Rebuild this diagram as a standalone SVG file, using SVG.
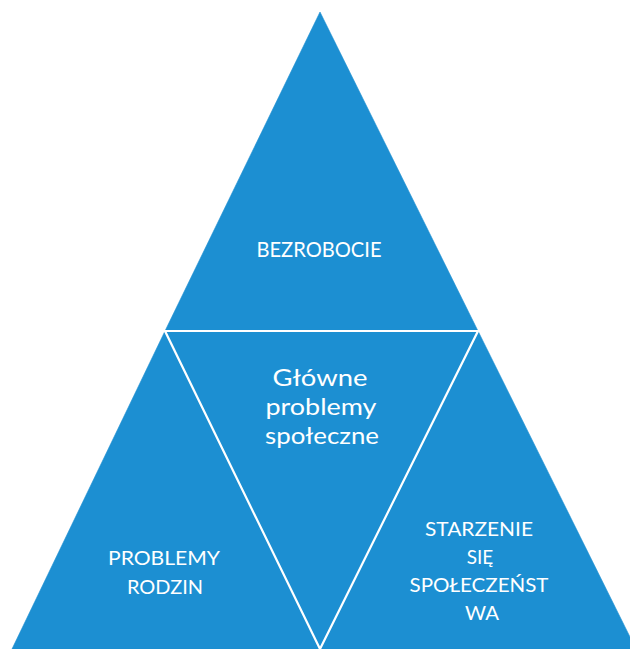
<svg xmlns="http://www.w3.org/2000/svg" width="630" height="649" viewBox="0 0 630 649">
<style>
.tri{fill:#1c8fd2;stroke:#1c8fd2;stroke-width:0.6}
.edge{fill:none;stroke:#ffffff;stroke-width:2.2;stroke-linejoin:miter}
.lbl{fill:#ffffff;font-family:Lato,"Open Sans","Noto Sans",sans-serif;text-anchor:middle}
</style>
<rect width="630" height="649" fill="#ffffff"/>
<g id="top">
<polygon class="tri" points="320,12 165,331 478,331"/>
<text class="lbl" x="319" y="257" font-size="21" textLength="125" lengthAdjust="spacingAndGlyphs">BEZROBOCIE</text>
</g>
<g id="left">
<polygon class="tri" points="165,331 12,649 320,649"/>
<text class="lbl" x="164" y="565" font-size="19" textLength="112" lengthAdjust="spacingAndGlyphs">PROBLEMY</text>
<text class="lbl" x="165" y="594" font-size="19" textLength="76" lengthAdjust="spacingAndGlyphs">RODZIN</text>
</g>
<g id="center">
<polygon class="tri" points="165,331 478,331 320,649"/>
<text class="lbl" x="320" y="386" font-size="24" textLength="95" lengthAdjust="spacingAndGlyphs">Główne</text>
<text class="lbl" x="321" y="415" font-size="24" textLength="111" lengthAdjust="spacingAndGlyphs">problemy</text>
<text class="lbl" x="322" y="444" font-size="24" textLength="114" lengthAdjust="spacingAndGlyphs">społeczne</text>
</g>
<g id="right">
<polygon class="tri" points="478,331 320,649 636,649"/>
<text class="lbl" x="479" y="536" font-size="19" textLength="108" lengthAdjust="spacingAndGlyphs">STARZENIE</text>
<text class="lbl" x="480" y="564" font-size="19">SIĘ</text>
<text class="lbl" x="479" y="592" font-size="19" textLength="139" lengthAdjust="spacingAndGlyphs">SPOŁECZEŃST</text>
<text class="lbl" x="482" y="620" font-size="19" textLength="34" lengthAdjust="spacingAndGlyphs">WA</text>
</g>
<g id="connectors">
<polygon class="edge" points="165,331 478,331 320,649"/>
</g>
</svg>
